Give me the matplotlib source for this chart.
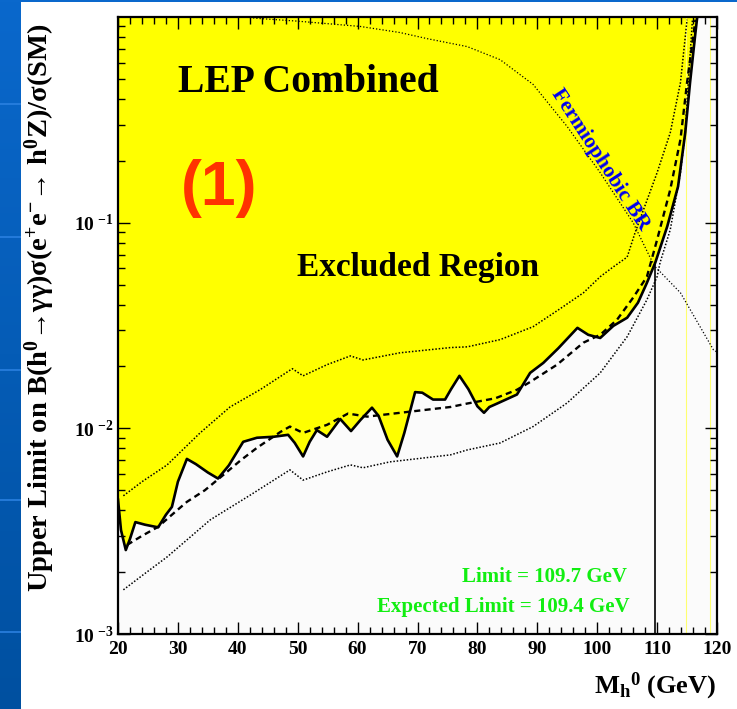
import numpy as np
import matplotlib
matplotlib.use('Agg')
import matplotlib.pyplot as plt
from matplotlib.ticker import MultipleLocator, FixedLocator, LogLocator, NullFormatter, FuncFormatter
from matplotlib.colors import LinearSegmentedColormap
from matplotlib.patches import Rectangle

plt.rcParams['font.family'] = ['Liberation Serif', 'DejaVu Serif']
plt.rcParams['font.weight'] = 'bold'
plt.rcParams['mathtext.fontset'] = 'custom'
plt.rcParams['mathtext.rm'] = 'Liberation Serif:bold'
plt.rcParams['mathtext.it'] = 'Liberation Serif:italic:bold'
plt.rcParams['mathtext.bf'] = 'Liberation Serif:bold'

# observed limit (solid)
obs_mass = [20.0, 20.5, 21.3, 22.0, 22.9, 24.5, 26.7, 28.0, 29.0, 30.0, 31.5, 33.0, 35.0,
            36.7, 38.5, 40.9, 43.2, 46.0, 48.4, 49.5, 50.9, 52.0, 53.2, 54.9, 57.1,
            58.9, 60.5, 62.4, 63.5, 65.0, 66.6, 67.8, 69.6, 70.8, 72.6, 74.6, 75.6,
            77.0, 78.5, 80.0, 81.1, 82.0, 83.3, 86.6, 88.8, 91.0, 93.5, 96.7, 98.5,
            100.5, 102.7, 105.0, 106.8, 108.3, 109.7, 111.7, 113.5, 114.7, 115.5, 116.4, 116.7]
obs_limit = [4.5e-3, 3.2e-3, 2.56e-3, 2.9e-3, 3.5e-3, 3.4e-3, 3.3e-3, 3.8e-3, 4.15e-3, 5.5e-3,
             7.1e-3, 6.7e-3, 6.1e-3, 5.7e-3, 6.6e-3, 8.6e-3, 9.0e-3, 9.1e-3, 9.3e-3, 8.5e-3,
             7.3e-3, 8.6e-3, 9.8e-3, 9.1e-3, 11.1e-3, 9.7e-3, 11.0e-3, 12.6e-3, 11.5e-3,
             8.8e-3, 7.3e-3, 9.5e-3, 15.0e-3, 14.9e-3, 13.8e-3, 13.8e-3, 15.5e-3, 18.0e-3,
             15.5e-3, 12.8e-3, 11.9e-3, 12.7e-3, 13.2e-3, 14.6e-3, 18.6e-3, 20.8e-3, 24.5e-3,
             30.8e-3, 28.5e-3, 27.5e-3, 31.5e-3, 34.5e-3, 40.8e-3, 51e-3, 0.064, 0.096, 0.150,
             0.274, 0.48, 0.84, 1.0]

# expected limit (dashed)
exp_mass = [21.5, 24.0, 26.7, 29.0, 31.5, 34.5, 37.6, 40.5, 43.2, 47.1, 48.7, 50.9, 54.9,
            58.4, 61.6, 67.1, 75.5, 78.3, 83.0, 86.6, 88.8, 93.3, 97.7, 100.5, 103.3, 106.0,
            108.3, 110.0, 112.2, 113.9, 115.0, 116.4]
exp_limit = [2.71e-3, 3.0e-3, 3.32e-3, 3.8e-3, 4.39e-3, 5.0e-3, 5.94e-3, 7.0e-3, 8.04e-3,
             9.6e-3, 10.2e-3, 9.5e-3, 10.4e-3, 11.8e-3, 11.4e-3, 11.9e-3, 12.7e-3, 13.2e-3,
             14.0e-3, 15.4e-3, 16.8e-3, 20.4e-3, 26.1e-3, 28.5e-3, 33.7e-3, 43.2e-3, 54.6e-3,
             0.0826, 0.145, 0.254, 0.48, 0.97]

# expected band, upper edge (dotted)
up_mass = [20.9, 24.0, 28.2, 33.7, 38.7, 43.7, 49.1, 50.9, 54.9, 58.8, 60.9, 67.1, 75.5,
           78.3, 83.8, 89.3, 93.6, 97.7, 100.5, 102.7, 105.0, 106.3, 110.0, 112.2, 113.9, 115.0]
up_limit = [4.7e-3, 5.5e-3, 6.64e-3, 9.5e-3, 12.7e-3, 15.4e-3, 19.5e-3, 18.0e-3, 20.4e-3,
            22.5e-3, 21.5e-3, 23.3e-3, 24.7e-3, 24.9e-3, 27.0e-3, 31.2e-3, 37.8e-3, 45.6e-3,
            54.6e-3, 61e-3, 68e-3, 89e-3, 0.175, 0.274, 0.48, 0.97]

# expected band, lower edge (dotted)
lo_mass = [20.9, 24.3, 28.2, 35.4, 42.1, 48.7, 50.9, 54.9, 58.8, 60.9, 65.4, 75.5, 78.3,
           83.8, 89.3, 95.0, 100.5, 105.0, 108.3, 110.0, 110.5, 112.2, 113.9, 114.7, 115.2, 115.9]
lo_limit = [1.64e-3, 1.95e-3, 2.37e-3, 3.59e-3, 4.74e-3, 6.28e-3, 5.6e-3, 6.14e-3, 6.64e-3,
            6.43e-3, 6.87e-3, 7.43e-3, 7.85e-3, 8.49e-3, 10.2e-3, 13.3e-3, 18.6e-3, 27.9e-3,
            42.2e-3, 54.6e-3, 0.064, 0.0925, 0.175, 0.274, 0.48, 0.97]

# fermiophobic branching ratio
br_mass = [35.0, 43.2, 49.9, 60.4, 67.1, 71.6, 78.3, 83.8, 89.3, 95.0, 100.5, 106.0,
           108.8, 109.7, 113.9, 119.4, 120.0]
br_value = [1.05, 0.985, 0.955, 0.90, 0.84, 0.785, 0.718, 0.62, 0.47, 0.293, 0.175, 0.10,
            0.068, 0.061, 0.0456, 0.0241, 0.0235]

obs_mass_limit = 109.7
kin_lines = [114.8, 118.8]

W, H = 737, 709
fig = plt.figure(figsize=(W / 100, H / 100), dpi=100)
fig.patch.set_facecolor('white')

# slide template decoration: blue strip at left, thin line at top
bax = fig.add_axes([0, 0, 21 / W, 1])
cmap = LinearSegmentedColormap.from_list('strip', ['#0a68cc', '#0050a0'])
bax.imshow(np.linspace(0, 1, 256).reshape(-1, 1), aspect='auto', cmap=cmap, extent=[0, 1, 0, 1])
for yp in [104, 237, 370, 500, 632]:
    bax.axhline(1 - yp / H, color='#2a80e0', lw=1.2)
bax.set_xlim(0, 1)
bax.set_ylim(0, 1)
bax.axis('off')
fig.add_artist(Rectangle((0, 1 - 2 / H), 1, 2 / H, transform=fig.transFigure,
                         color='#0a68cc', lw=0))

ax = fig.add_axes([118 / W, 1 - 634 / H, (717 - 118) / W, (634 - 17) / H])
ax.set_facecolor('#fbfbfb')
ax.set_yscale('log')
ax.set_xlim(20, 120)
ax.set_ylim(1e-3, 1)

ax.fill_between(obs_mass, obs_limit, 1, color='#ffff00', lw=0, zorder=1)
for m in kin_lines:
    ax.axvline(m, color='#ffff70', lw=0.8, zorder=1)

ax.plot(up_mass, up_limit, color='black', lw=1.1, ls=(0, (1, 1.2)), zorder=3)
ax.plot(lo_mass, lo_limit, color='black', lw=1.1, ls=(0, (1, 1.2)), zorder=3)
ax.plot(br_mass, br_value, color='black', lw=0.9, ls=(0, (1, 1.6)), zorder=3)
ax.plot(exp_mass, exp_limit, color='black', lw=1.7, ls=(0, (2.6, 1.8)), zorder=4)
ax.plot(obs_mass, obs_limit, color='black', lw=1.9, zorder=5)
ax.plot([obs_mass_limit, obs_mass_limit], [1e-3, np.interp(obs_mass_limit, obs_mass, obs_limit)],
        color='black', lw=1.2, zorder=5)

ax.xaxis.set_major_locator(MultipleLocator(10))
ax.xaxis.set_minor_locator(MultipleLocator(2))
ax.yaxis.set_major_locator(FixedLocator([1e-3, 1e-2, 1e-1]))
ax.yaxis.set_minor_locator(LogLocator(base=10, subs=np.arange(2, 10)))
ax.yaxis.set_minor_formatter(NullFormatter())
ax.yaxis.set_major_formatter(FuncFormatter(
    lambda v, p: r'$\mathbf{10}\;^{\mathbf{%d}}$' % round(np.log10(v))))
ax.tick_params(which='both', direction='in', top=True, right=True, width=1.0)
ax.tick_params(which='major', length=8.5, labelsize=14, pad=5)
ax.tick_params(which='minor', length=5)
ax.tick_params(axis='y', which='major', pad=3)
for lab in ax.get_xticklabels():
    lab.set_fontweight('bold')
for s in ax.spines.values():
    s.set_linewidth(1.6)

fig.text(178 / W, 1 - 92 / H, 'LEP Combined', fontsize=28.5, fontweight='bold',
         ha='left', va='baseline')
fig.text(219 / W, 1 - 188 / H, '(1)', fontsize=45, fontweight='bold', color='#ff3300',
         family='Liberation Sans', ha='center', va='center')
fig.text(297 / W, 1 - 276 / H, 'Excluded Region', fontsize=24, fontweight='bold',
         ha='left', va='baseline')
fig.text(600 / W, 1 - 160 / H, 'Fermiophobic BR', fontsize=15.5, fontweight='bold',
         color='#0000ee', rotation=-57, rotation_mode='anchor', ha='center', va='center')
fig.text(627 / W, 1 - 582 / H, 'Limit = 109.7 GeV', fontsize=15, fontweight='bold',
         color='#11ee11', ha='right', va='baseline')
fig.text(630 / W, 1 - 612 / H, 'Expected Limit = 109.4 GeV', fontsize=15, fontweight='bold',
         color='#11ee11', ha='right', va='baseline')

fig.text(716 / W, 1 - 693 / H, r'M$_{\mathbf{h}}{}^{\mathbf{0}}$ (GeV)', fontsize=19,
         fontweight='bold', ha='right', va='baseline')
fig.text(40 / W, 1 - 308 / H,
         'Upper Limit on B(h$^{\\mathbf{0}}$→γγ)σ'
         '(e$^{\\mathbf{+}}$e$^{\\mathbf{-}}$→ h$^{\\mathbf{0}}$Z)/σ(SM)',
         fontsize=20.5, fontweight='bold', rotation=90, ha='center', va='center')

fig.savefig('out.png', dpi=100)
